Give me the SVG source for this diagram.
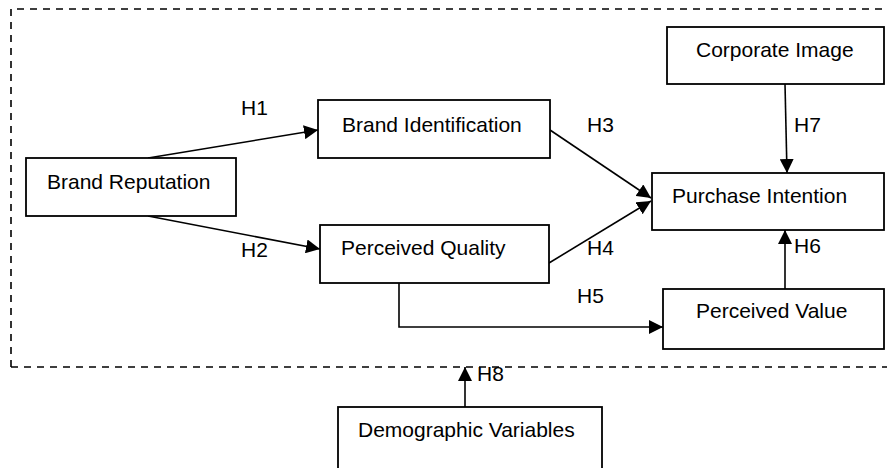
<svg xmlns="http://www.w3.org/2000/svg" width="887" height="468" viewBox="0 0 887 468">
<style>
.box{fill:#fff;stroke:#000;stroke-width:1.8}
.t{font-family:"Liberation Sans",Arial,sans-serif;font-size:21px;fill:#000}
.c{stroke:#000;stroke-width:1.6;fill:none}
.d{stroke:#000;stroke-width:1.6;fill:none;stroke-dasharray:7 6}
</style>
<defs>
<marker id="a" markerUnits="userSpaceOnUse" markerWidth="15" markerHeight="14" refX="14" refY="7" orient="auto">
<path d="M0,0 L14,7 L0,14 z" fill="#000"/>
</marker>
</defs>
<g id="boundary">
<path class="d" d="M11,367 L11,9 L887,9"/>
<path class="d" d="M11,367 L887,367"/>
</g>
<g id="connectors">
<line class="c" x1="148" y1="158" x2="318" y2="130" marker-end="url(#a)"/>
<line class="c" x1="148" y1="216" x2="320" y2="249" marker-end="url(#a)"/>
<line class="c" x1="550" y1="130" x2="651" y2="198" marker-end="url(#a)"/>
<line class="c" x1="549" y1="263" x2="651" y2="201" marker-end="url(#a)"/>
<line class="c" x1="785" y1="84" x2="787" y2="173" marker-end="url(#a)"/>
<line class="c" x1="785" y1="289" x2="785" y2="230" marker-end="url(#a)"/>
<polyline class="c" points="399,283 399,327 663,327" marker-end="url(#a)"/>
<line class="c" x1="465" y1="407" x2="465" y2="367" marker-end="url(#a)"/>
</g>
<g id="brand-reputation"><rect class="box" x="26" y="158" width="210" height="58"/><text class="t" x="47" y="189">Brand Reputation</text></g>
<g id="brand-identification"><rect class="box" x="318" y="100" width="232" height="58"/><text class="t" x="342" y="132">Brand Identification</text></g>
<g id="perceived-quality"><rect class="box" x="320" y="225" width="229" height="58"/><text class="t" x="341" y="255">Perceived Quality</text></g>
<g id="corporate-image"><rect class="box" x="667" y="27" width="217" height="57"/><text class="t" x="696" y="57">Corporate Image</text></g>
<g id="purchase-intention"><rect class="box" x="652" y="173" width="232" height="57"/><text class="t" x="672" y="203">Purchase Intention</text></g>
<g id="perceived-value"><rect class="box" x="663" y="289" width="221" height="60"/><text class="t" x="696" y="318">Perceived Value</text></g>
<g id="demographic-variables"><rect class="box" x="338" y="407" width="264" height="70"/><text class="t" x="358" y="437">Demographic Variables</text></g>
<g id="labels">
<text class="t" x="241" y="115">H1</text>
<text class="t" x="241" y="257">H2</text>
<text class="t" x="587" y="132">H3</text>
<text class="t" x="587" y="255">H4</text>
<text class="t" x="577" y="303">H5</text>
<text class="t" x="794" y="253">H6</text>
<text class="t" x="794" y="132">H7</text>
<text class="t" x="477" y="381">H8</text>
</g>
</svg>
